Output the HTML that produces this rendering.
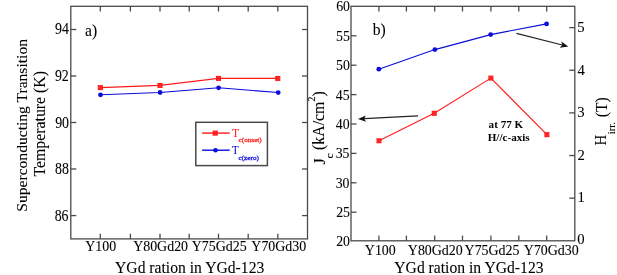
<!DOCTYPE html>
<html><head><meta charset="utf-8"><style>
html,body{margin:0;padding:0;background:#fff;}
svg{display:block;will-change:transform;}
text{font-family:"Liberation Serif", serif;}
</style></head><body>
<svg width="617" height="275" viewBox="0 0 617 275">
<rect width="617" height="275" fill="#fff"/>
<rect x="70.8" y="6.3" width="236.7" height="232.6" fill="none" stroke="#4a4a4a" stroke-width="1.3"/>
<line x1="100.3" y1="6.3" x2="100.3" y2="11.5" stroke="#4a4a4a" stroke-width="1.3"/>
<line x1="100.3" y1="238.9" x2="100.3" y2="233.7" stroke="#4a4a4a" stroke-width="1.3"/>
<line x1="130.4" y1="6.3" x2="130.4" y2="11.5" stroke="#4a4a4a" stroke-width="1.3"/>
<line x1="130.4" y1="238.9" x2="130.4" y2="233.7" stroke="#4a4a4a" stroke-width="1.3"/>
<line x1="160" y1="6.3" x2="160" y2="11.5" stroke="#4a4a4a" stroke-width="1.3"/>
<line x1="160" y1="238.9" x2="160" y2="233.7" stroke="#4a4a4a" stroke-width="1.3"/>
<line x1="189.2" y1="6.3" x2="189.2" y2="11.5" stroke="#4a4a4a" stroke-width="1.3"/>
<line x1="189.2" y1="238.9" x2="189.2" y2="233.7" stroke="#4a4a4a" stroke-width="1.3"/>
<line x1="218.5" y1="6.3" x2="218.5" y2="11.5" stroke="#4a4a4a" stroke-width="1.3"/>
<line x1="218.5" y1="238.9" x2="218.5" y2="233.7" stroke="#4a4a4a" stroke-width="1.3"/>
<line x1="248.2" y1="6.3" x2="248.2" y2="11.5" stroke="#4a4a4a" stroke-width="1.3"/>
<line x1="248.2" y1="238.9" x2="248.2" y2="233.7" stroke="#4a4a4a" stroke-width="1.3"/>
<line x1="277.8" y1="6.3" x2="277.8" y2="11.5" stroke="#4a4a4a" stroke-width="1.3"/>
<line x1="277.8" y1="238.9" x2="277.8" y2="233.7" stroke="#4a4a4a" stroke-width="1.3"/>
<line x1="70.8" y1="29.5" x2="76.3" y2="29.5" stroke="#4a4a4a" stroke-width="1.3"/>
<line x1="70.8" y1="76" x2="76.3" y2="76" stroke="#4a4a4a" stroke-width="1.3"/>
<line x1="70.8" y1="122.5" x2="76.3" y2="122.5" stroke="#4a4a4a" stroke-width="1.3"/>
<line x1="70.8" y1="169" x2="76.3" y2="169" stroke="#4a4a4a" stroke-width="1.3"/>
<line x1="70.8" y1="215.6" x2="76.3" y2="215.6" stroke="#4a4a4a" stroke-width="1.3"/>
<line x1="307.5" y1="29.5" x2="302" y2="29.5" stroke="#4a4a4a" stroke-width="1.3"/>
<line x1="307.5" y1="76" x2="302" y2="76" stroke="#4a4a4a" stroke-width="1.3"/>
<line x1="307.5" y1="122.5" x2="302" y2="122.5" stroke="#4a4a4a" stroke-width="1.3"/>
<line x1="307.5" y1="169" x2="302" y2="169" stroke="#4a4a4a" stroke-width="1.3"/>
<line x1="307.5" y1="215.6" x2="302" y2="215.6" stroke="#4a4a4a" stroke-width="1.3"/>
<polyline points="100.3,87.6 160,85.4 218.5,78.4 277.8,78.4" fill="none" stroke="#ff1a1a" stroke-width="1.1" stroke-linejoin="round"/>
<polyline points="100.5,94.8 160.1,92.5 218.6,87.8 278.2,92.55" fill="none" stroke="#0c0cdc" stroke-width="1.1" stroke-linejoin="round"/>
<rect x="98.35" y="85.65" width="3.9" height="3.9" fill="#ff1a1a" fill-opacity="0.8" stroke="#ff1a1a" stroke-width="1.1"/>
<path d="M98.35,85.65L102.25,89.55M102.25,85.65L98.35,89.55" stroke="#ff1a1a" stroke-width="1"/>
<rect x="158.05" y="83.45" width="3.9" height="3.9" fill="#ff1a1a" fill-opacity="0.8" stroke="#ff1a1a" stroke-width="1.1"/>
<path d="M158.05,83.45L161.95,87.35M161.95,83.45L158.05,87.35" stroke="#ff1a1a" stroke-width="1"/>
<rect x="216.55" y="76.45" width="3.9" height="3.9" fill="#ff1a1a" fill-opacity="0.8" stroke="#ff1a1a" stroke-width="1.1"/>
<path d="M216.55,76.45L220.45,80.35M220.45,76.45L216.55,80.35" stroke="#ff1a1a" stroke-width="1"/>
<rect x="275.85" y="76.45" width="3.9" height="3.9" fill="#ff1a1a" fill-opacity="0.8" stroke="#ff1a1a" stroke-width="1.1"/>
<path d="M275.85,76.45L279.75,80.35M279.75,76.45L275.85,80.35" stroke="#ff1a1a" stroke-width="1"/>
<circle cx="100.5" cy="94.8" r="2.4" fill="#0c0cdc"/>
<circle cx="160.1" cy="92.5" r="2.4" fill="#0c0cdc"/>
<circle cx="218.6" cy="87.8" r="2.4" fill="#0c0cdc"/>
<circle cx="278.2" cy="92.55" r="2.4" fill="#0c0cdc"/>
<rect x="195.8" y="122.3" width="71.6" height="43.3" fill="#fff" stroke="#4a4a4a" stroke-width="1.5"/>
<line x1="202.1" y1="133.1" x2="229.7" y2="133.1" stroke="#ff1a1a" stroke-width="1.4"/>
<rect x="213.2" y="131.1" width="4" height="4" fill="#ff1a1a" fill-opacity="0.8" stroke="#ff1a1a" stroke-width="1.1"/>
<path d="M213.2,131.1L217.2,135.1M217.2,131.1L213.2,135.1" stroke="#ff1a1a" stroke-width="1"/>
<line x1="202.1" y1="150.2" x2="229.7" y2="150.2" stroke="#0c0cdc" stroke-width="1.4"/>
<circle cx="215.5" cy="150.2" r="2.3" fill="#0c0cdc"/>
<rect x="351" y="6.3" width="223.8" height="234.5" fill="none" stroke="#4a4a4a" stroke-width="1.3"/>
<line x1="378.9" y1="6.3" x2="378.9" y2="11.5" stroke="#4a4a4a" stroke-width="1.3"/>
<line x1="378.9" y1="240.8" x2="378.9" y2="235.6" stroke="#4a4a4a" stroke-width="1.3"/>
<line x1="406.4" y1="6.3" x2="406.4" y2="11.5" stroke="#4a4a4a" stroke-width="1.3"/>
<line x1="406.4" y1="240.8" x2="406.4" y2="235.6" stroke="#4a4a4a" stroke-width="1.3"/>
<line x1="434.7" y1="6.3" x2="434.7" y2="11.5" stroke="#4a4a4a" stroke-width="1.3"/>
<line x1="434.7" y1="240.8" x2="434.7" y2="235.6" stroke="#4a4a4a" stroke-width="1.3"/>
<line x1="462.5" y1="6.3" x2="462.5" y2="11.5" stroke="#4a4a4a" stroke-width="1.3"/>
<line x1="462.5" y1="240.8" x2="462.5" y2="235.6" stroke="#4a4a4a" stroke-width="1.3"/>
<line x1="490.9" y1="6.3" x2="490.9" y2="11.5" stroke="#4a4a4a" stroke-width="1.3"/>
<line x1="490.9" y1="240.8" x2="490.9" y2="235.6" stroke="#4a4a4a" stroke-width="1.3"/>
<line x1="518.8" y1="6.3" x2="518.8" y2="11.5" stroke="#4a4a4a" stroke-width="1.3"/>
<line x1="518.8" y1="240.8" x2="518.8" y2="235.6" stroke="#4a4a4a" stroke-width="1.3"/>
<line x1="546.7" y1="6.3" x2="546.7" y2="11.5" stroke="#4a4a4a" stroke-width="1.3"/>
<line x1="546.7" y1="240.8" x2="546.7" y2="235.6" stroke="#4a4a4a" stroke-width="1.3"/>
<line x1="351" y1="35.8" x2="356.5" y2="35.8" stroke="#4a4a4a" stroke-width="1.3"/>
<line x1="351" y1="65.2" x2="356.5" y2="65.2" stroke="#4a4a4a" stroke-width="1.3"/>
<line x1="351" y1="94.6" x2="356.5" y2="94.6" stroke="#4a4a4a" stroke-width="1.3"/>
<line x1="351" y1="124" x2="356.5" y2="124" stroke="#4a4a4a" stroke-width="1.3"/>
<line x1="351" y1="153.4" x2="356.5" y2="153.4" stroke="#4a4a4a" stroke-width="1.3"/>
<line x1="351" y1="182.8" x2="356.5" y2="182.8" stroke="#4a4a4a" stroke-width="1.3"/>
<line x1="351" y1="212.2" x2="356.5" y2="212.2" stroke="#4a4a4a" stroke-width="1.3"/>
<line x1="574.8" y1="198.16" x2="569.3" y2="198.16" stroke="#4a4a4a" stroke-width="1.3"/>
<line x1="574.8" y1="155.53" x2="569.3" y2="155.53" stroke="#4a4a4a" stroke-width="1.3"/>
<line x1="574.8" y1="112.89" x2="569.3" y2="112.89" stroke="#4a4a4a" stroke-width="1.3"/>
<line x1="574.8" y1="70.25" x2="569.3" y2="70.25" stroke="#4a4a4a" stroke-width="1.3"/>
<line x1="574.8" y1="27.62" x2="569.3" y2="27.62" stroke="#4a4a4a" stroke-width="1.3"/>
<polyline points="379,140.8 434.2,113.3 490.9,78.1 546.9,134.7" fill="none" stroke="#ff1a1a" stroke-width="1.1" stroke-linejoin="round"/>
<polyline points="378.8,69.2 434.9,49.6 490.7,34.6 546.6,23.9" fill="none" stroke="#0c0cdc" stroke-width="1.1" stroke-linejoin="round"/>
<rect x="377.05" y="138.85" width="3.9" height="3.9" fill="#ff1a1a" fill-opacity="0.8" stroke="#ff1a1a" stroke-width="1.1"/>
<path d="M377.05,138.85L380.95,142.75M380.95,138.85L377.05,142.75" stroke="#ff1a1a" stroke-width="1"/>
<rect x="432.25" y="111.35" width="3.9" height="3.9" fill="#ff1a1a" fill-opacity="0.8" stroke="#ff1a1a" stroke-width="1.1"/>
<path d="M432.25,111.35L436.15,115.25M436.15,111.35L432.25,115.25" stroke="#ff1a1a" stroke-width="1"/>
<rect x="488.95" y="76.15" width="3.9" height="3.9" fill="#ff1a1a" fill-opacity="0.8" stroke="#ff1a1a" stroke-width="1.1"/>
<path d="M488.95,76.15L492.85,80.05M492.85,76.15L488.95,80.05" stroke="#ff1a1a" stroke-width="1"/>
<rect x="544.95" y="132.75" width="3.9" height="3.9" fill="#ff1a1a" fill-opacity="0.8" stroke="#ff1a1a" stroke-width="1.1"/>
<path d="M544.95,132.75L548.85,136.65M548.85,132.75L544.95,136.65" stroke="#ff1a1a" stroke-width="1"/>
<circle cx="378.8" cy="69.2" r="2.4" fill="#0c0cdc"/>
<circle cx="434.9" cy="49.6" r="2.4" fill="#0c0cdc"/>
<circle cx="490.7" cy="34.6" r="2.4" fill="#0c0cdc"/>
<circle cx="546.6" cy="23.9" r="2.4" fill="#0c0cdc"/>
<line x1="418" y1="115.9" x2="364.19" y2="118.68" stroke="#222" stroke-width="1.15"/>
<path d="M358,119 L365.82,115.39 L364.19,118.68 L366.15,121.78 Z" fill="#111"/>
<line x1="516.5" y1="33.4" x2="562.29" y2="44.98" stroke="#222" stroke-width="1.15"/>
<path d="M568.3,46.5 L559.76,47.64 L562.29,44.98 L561.33,41.44 Z" fill="#111"/>
<g font-family='"Liberation Serif", serif'>
<text transform="translate(55.03,34.4) scale(0.882,1)" font-size="15.77" fill="#000" stroke="#000" stroke-width="0.08">94</text>
<text transform="translate(54.91,81.3) scale(0.882,1)" font-size="15.77" fill="#000" stroke="#000" stroke-width="0.08">92</text>
<text transform="translate(55.17,127.82) scale(0.882,1)" font-size="15.77" fill="#000" stroke="#000" stroke-width="0.08">90</text>
<text transform="translate(55.1,174.42) scale(0.882,1)" font-size="15.77" fill="#000" stroke="#000" stroke-width="0.08">88</text>
<text transform="translate(54.63,220.52) scale(0.882,1)" font-size="15.77" fill="#000" stroke="#000" stroke-width="0.08">86</text>
<text transform="translate(336.13,11.23) scale(0.921,1)" font-size="15.03" fill="#000" stroke="#000" stroke-width="0.08">60</text>
<text transform="translate(335.99,40.71) scale(0.921,1)" font-size="15.03" fill="#000" stroke="#000" stroke-width="0.08">55</text>
<text transform="translate(335.99,70.03) scale(0.921,1)" font-size="15.03" fill="#000" stroke="#000" stroke-width="0.08">50</text>
<text transform="translate(335.87,99.51) scale(0.921,1)" font-size="15.03" fill="#000" stroke="#000" stroke-width="0.08">45</text>
<text transform="translate(335.87,128.83) scale(0.921,1)" font-size="15.03" fill="#000" stroke="#000" stroke-width="0.08">40</text>
<text transform="translate(335.66,158.31) scale(0.921,1)" font-size="15.03" fill="#000" stroke="#000" stroke-width="0.08">35</text>
<text transform="translate(335.66,187.63) scale(0.921,1)" font-size="15.03" fill="#000" stroke="#000" stroke-width="0.08">30</text>
<text transform="translate(336.13,217.11) scale(0.921,1)" font-size="15.03" fill="#000" stroke="#000" stroke-width="0.08">25</text>
<text transform="translate(336.13,246.43) scale(0.921,1)" font-size="15.03" fill="#000" stroke="#000" stroke-width="0.08">20</text>
<text transform="translate(577.33,244.38) scale(0.969,1)" font-size="15.17" fill="#000" stroke="#000" stroke-width="0.08">0</text>
<text transform="translate(577.41,202.18) scale(0.969,1)" font-size="15.17" fill="#000" stroke="#000" stroke-width="0.08">1</text>
<text transform="translate(577.57,160.12) scale(0.969,1)" font-size="15.17" fill="#000" stroke="#000" stroke-width="0.08">2</text>
<text transform="translate(577.35,117.26) scale(0.969,1)" font-size="15.17" fill="#000" stroke="#000" stroke-width="0.08">3</text>
<text transform="translate(577.43,74.55) scale(0.969,1)" font-size="15.17" fill="#000" stroke="#000" stroke-width="0.08">4</text>
<text transform="translate(577.28,31.69) scale(0.969,1)" font-size="15.17" fill="#000" stroke="#000" stroke-width="0.08">5</text>
<text transform="translate(85.25,250.98) scale(0.995,1)" font-size="14" fill="#000" stroke="#000" stroke-width="0.08">Y100</text>
<text transform="translate(133.15,250.89) scale(0.995,1)" font-size="14" fill="#000" stroke="#000" stroke-width="0.08">Y80Gd20</text>
<text transform="translate(191.75,251.44) scale(0.995,1)" font-size="14" fill="#000" stroke="#000" stroke-width="0.08">Y75Gd25</text>
<text transform="translate(251.35,251.44) scale(0.995,1)" font-size="14" fill="#000" stroke="#000" stroke-width="0.08">Y70Gd30</text>
<text transform="translate(364.83,254.83) scale(0.975,1)" font-size="14.3" fill="#000" stroke="#000" stroke-width="0.08">Y100</text>
<text transform="translate(407.82,255.29) scale(0.975,1)" font-size="14.3" fill="#000" stroke="#000" stroke-width="0.08">Y80Gd20</text>
<text transform="translate(464.57,255.04) scale(0.975,1)" font-size="14.3" fill="#000" stroke="#000" stroke-width="0.08">Y75Gd25</text>
<text transform="translate(523.82,254.59) scale(0.975,1)" font-size="14.3" fill="#000" stroke="#000" stroke-width="0.08">Y70Gd30</text>
<text transform="translate(115.05,272.84) scale(0.92,1)" font-size="17" fill="#000" stroke="#000" stroke-width="0.08">YGd ration in YGd-123</text>
<text transform="translate(394.3,273.3) scale(0.92,1)" font-size="17" fill="#000" stroke="#000" stroke-width="0.08">YGd ration in YGd-123</text>
<text transform="translate(85.08,35.76) scale(0.96,1)" font-size="16.3" fill="#000" stroke="#000" stroke-width="0.08">a)</text>
<text transform="translate(372.72,35.16) scale(0.96,1)" font-size="16.3" fill="#000" stroke="#000" stroke-width="0.08">b)</text>
<text transform="translate(488.59,127.71) scale(1.03,1)" font-size="10.8" fill="#000" stroke="#000" stroke-width="0" font-weight="bold">at 77 K</text>
<text transform="translate(487.68,141.32) scale(1.03,1)" font-size="10.8" fill="#000" stroke="#000" stroke-width="0" font-weight="bold">H//c-axis</text>
<text transform="translate(232.18,137.25) scale(0.93,1)" font-size="11.7" fill="#ff1a1a" stroke="#ff1a1a" stroke-width="0.08">T</text>
<text transform="translate(238.54,142.08) scale(1.03,1)" font-size="7" fill="#ff1a1a" stroke="#ff1a1a" stroke-width="0.28">c(onset)</text>
<text transform="translate(231.98,153.55) scale(0.93,1)" font-size="11.7" fill="#0c0cdc" stroke="#0c0cdc" stroke-width="0.08">T</text>
<text transform="translate(238.5,159.58) scale(1.03,1)" font-size="7" fill="#0c0cdc" stroke="#0c0cdc" stroke-width="0.28">c(zero)</text>
<text transform="translate(26.96,211.69) rotate(-90) scale(1.01,1)" font-size="15.44" fill="#000" stroke="#000" stroke-width="0.08">Superconducting Transition</text>
<text transform="translate(44.69,176.52) rotate(-90) scale(1.002,1)" font-size="15.78" fill="#000" stroke="#000" stroke-width="0.08">Temperature (K)</text>
<text transform="translate(324.66,164.48) rotate(-90)" font-size="15.8" fill="#000" stroke="#000" stroke-width="0.08">J</text>
<text transform="translate(332.52,158.45) rotate(-90) scale(1.1,1)" font-size="10.5" fill="#000" stroke="#000" stroke-width="0.08">c</text>
<text transform="translate(323.79,149.93) rotate(-90)" font-size="15.8" fill="#000" stroke="#000" stroke-width="0.08">(kA/cm</text>
<text transform="translate(315.16,101.82) rotate(-90)" font-size="10.5" fill="#000" stroke="#000" stroke-width="0.08">2</text>
<text transform="translate(324.44,96.38) rotate(-90)" font-size="15.8" fill="#000" stroke="#000" stroke-width="0.08">)</text>
<text transform="translate(606.31,145.6) rotate(-90) scale(0.9,1)" font-size="16.5" fill="#000" stroke="#000" stroke-width="0.08">H</text>
<text transform="translate(614.87,134.32) rotate(-90) scale(0.97,1)" font-size="11" fill="#000" stroke="#000" stroke-width="0.08">irr.</text>
<text transform="translate(607.01,117.2) rotate(-90) scale(0.95,1)" font-size="16.5" fill="#000" stroke="#000" stroke-width="0.08">(T)</text>
</g>
</svg>
</body></html>
